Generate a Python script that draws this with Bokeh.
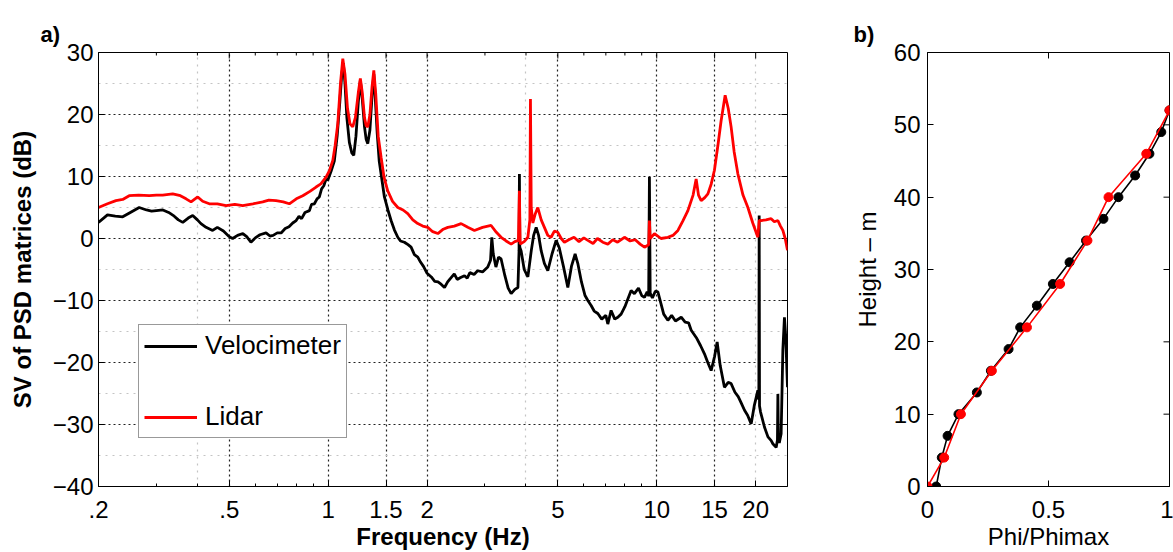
import math
from bokeh.plotting import figure
from bokeh.models import FixedTicker, Legend, LegendItem, Range1d
from bokeh.layouts import row
from bokeh.embed import file_html
from bokeh.resources import INLINE

FONT = "Liberation Sans"

# ---------------- data: panel a) ----------------
vel_freq = [
    0.2, 0.213, 0.225, 0.237, 0.25, 0.266, 0.28, 0.29, 0.30, 0.314,
    0.327, 0.34, 0.35, 0.361, 0.375, 0.387, 0.40, 0.41, 0.425, 0.445,
    0.46, 0.48, 0.50, 0.512, 0.53, 0.55, 0.565, 0.582, 0.60, 0.62,
    0.647, 0.665, 0.68, 0.70, 0.719, 0.74, 0.76, 0.78, 0.799, 0.815,
    0.83, 0.85, 0.877, 0.89, 0.908, 0.925, 0.94, 0.955, 0.97, 0.985,
    0.997, 1.02, 1.044, 1.065, 1.085, 1.1, 1.112, 1.125, 1.14, 1.16,
    1.18, 1.1965, 1.215, 1.235, 1.253, 1.27, 1.29, 1.305, 1.32, 1.34,
    1.36, 1.377, 1.39, 1.41, 1.43, 1.449, 1.483, 1.52, 1.554, 1.59,
    1.629, 1.66, 1.706, 1.75, 1.788, 1.83, 1.874, 1.91, 1.95, 2.0,
    2.06, 2.11, 2.16, 2.21, 2.26, 2.31, 2.35, 2.42, 2.47, 2.53,
    2.6, 2.65, 2.7, 2.78, 2.85, 2.95, 3.06, 3.12, 3.148, 3.18,
    3.24, 3.3, 3.36, 3.45, 3.53, 3.605, 3.7, 3.78, 3.81, 3.82,
    3.83, 3.866, 3.95, 4.053, 4.15, 4.22, 4.296, 4.37, 4.45, 4.55,
    4.661, 4.8, 4.94, 5.05, 5.2, 5.363, 5.5, 5.644, 5.75, 5.9,
    6.05, 6.17, 6.314, 6.45, 6.617, 6.8, 7.0, 7.097, 7.263, 7.45,
    7.612, 7.79, 8.0, 8.2, 8.357, 8.55, 8.8, 9.0, 9.176, 9.35,
    9.45, 9.5, 9.55, 9.7, 9.9, 10.08, 10.3, 10.5, 10.81, 11.1,
    11.4, 11.87, 12.2, 12.5, 12.73, 13.2, 13.6, 13.97, 14.3, 14.64,
    15.0, 15.27, 15.6, 16.07, 16.5, 16.84, 17.3, 17.7, 18.07, 18.5,
    18.9, 19.38, 19.8, 20.31, 20.45, 20.5, 20.55, 20.7, 21.27, 21.8,
    22.3, 22.56, 23.09, 23.3, 23.37, 23.45, 23.6, 23.91, 24.2, 24.47,
    24.7, 25.0,
]
vel_db = [
    2.6, 3.8, 3.6, 3.5, 4.2, 5.0, 4.6, 4.4, 4.5, 4.6,
    4.2, 3.6, 3.0, 2.6, 3.3, 3.7, 3.0, 2.4, 1.8, 1.3,
    1.8, 1.2, 0.3, 0.0, 0.5, 0.8, 0.3, -0.6, 0.1, 0.6,
    0.9, 0.4, 0.5, 0.9, 0.9, 1.6, 1.9, 2.5, 2.9, 3.6,
    3.2, 4.2, 4.5, 5.5, 5.6, 6.4, 6.7, 8.0, 8.5, 9.6,
    9.4, 10.8, 12.5, 16.5, 22.0, 26.5, 28.3, 25.0, 19.5, 15.5,
    13.8, 13.4, 16.5, 22.0, 25.5, 22.5, 18.0, 16.0, 15.3, 17.5,
    23.0, 26.5, 23.0, 17.0, 12.5, 10.4, 6.7, 4.6, 2.9, 1.4,
    0.2, -0.4, -0.6, -1.0, -1.4, -2.6, -3.0, -3.8, -4.5, -5.6,
    -6.2, -6.9, -7.0, -7.4, -7.9, -7.0, -6.5, -5.7, -6.6, -6.3,
    -6.0, -6.4, -5.5, -5.8, -5.2, -5.4, -4.6, -3.5, 0.2, -2.5,
    -4.6, -3.0, -3.3, -6.0, -8.0, -8.9, -8.2, -7.9, -2.0, 10.4,
    -1.4, -2.0, -5.0, -6.2, -2.0, 0.5, 1.8, 0.5, -2.0, -4.0,
    -5.2, -2.5, -0.3, -1.5, -4.5, -7.9, -4.5, -2.5, -4.0, -7.0,
    -9.2, -10.0, -10.8, -11.7, -12.1, -13.0, -12.4, -13.8, -11.6, -13.0,
    -12.7, -12.2, -11.0, -9.5, -8.4, -8.9, -8.0, -9.2, -9.5, -8.6,
    -9.3, 9.9, -8.8, -9.6, -8.5, -8.6, -10.5, -12.2, -13.2, -12.4,
    -13.3, -12.7, -13.5, -13.6, -14.8, -16.0, -17.3, -18.6, -20.0, -21.3,
    -19.0, -16.7, -20.5, -24.0, -23.2, -23.4, -24.8, -25.5, -26.5, -27.7,
    -28.5, -29.9, -27.0, -24.5, -26.0, 3.7, -27.0, -28.0, -30.4, -32.0,
    -32.6, -33.1, -33.7, -32.5, -25.1, -32.0, -33.0, -31.5, -18.0, -12.7,
    -16.0, -24.0,
]

lid_freq = [
    0.2, 0.213, 0.226, 0.237, 0.248, 0.265, 0.2855, 0.30, 0.3136, 0.3364,
    0.355, 0.3694, 0.3826, 0.4009, 0.415, 0.4348, 0.46, 0.489, 0.52, 0.5495,
    0.59, 0.6323, 0.66, 0.694, 0.73, 0.7617, 0.80, 0.837, 0.88, 0.9188,
    0.95, 0.9854, 1.01, 1.033, 1.05, 1.0696, 1.09, 1.108, 1.125, 1.145,
    1.165, 1.188, 1.21, 1.235, 1.253, 1.27, 1.29, 1.305, 1.32, 1.34,
    1.36, 1.377, 1.395, 1.42, 1.449, 1.48, 1.518, 1.57, 1.629, 1.69,
    1.747, 1.81, 1.874, 1.94, 2.01, 2.08, 2.157, 2.24, 2.313, 2.42,
    2.539, 2.66, 2.787, 2.95, 3.133, 3.25, 3.36, 3.48, 3.605, 3.7,
    3.793, 3.82, 3.84, 3.95, 4.053, 4.11, 4.127, 4.15, 4.197, 4.27,
    4.345, 4.45, 4.551, 4.66, 4.77, 4.88, 5.0, 5.12, 5.236, 5.4,
    5.6, 5.8, 6.0, 6.17, 6.4, 6.6, 6.85, 7.097, 7.35, 7.6,
    7.973, 8.3, 8.6, 8.9, 9.176, 9.45, 9.5, 9.55, 9.84, 10.3,
    10.81, 11.2, 11.6, 12.0, 12.44, 12.9, 13.18, 13.4, 13.65, 14.0,
    14.31, 14.65, 14.98, 15.35, 15.70, 16.15, 16.5, 16.84, 17.2, 17.66,
    18.3, 18.94, 19.6, 20.31, 20.5, 20.79, 21.5, 22.29, 22.8, 23.37,
    23.8, 24.2, 24.6, 25.0,
]
lid_db = [
    5.0, 5.6, 6.1, 6.3, 6.9, 7.0, 6.9, 7.0, 7.0, 7.2,
    6.9, 6.4, 5.9, 6.7, 6.0, 5.6, 5.6, 5.3, 5.5, 5.3,
    5.6, 5.9, 6.2, 6.1, 5.9, 5.6, 6.4, 6.9, 7.6, 8.3,
    8.8, 9.9, 11.0, 12.6, 15.0, 18.5, 25.0, 29.0, 26.5, 21.0,
    18.5, 18.0, 19.5, 23.5, 25.8, 23.5, 19.5, 18.2, 18.0, 20.0,
    24.5, 27.1, 23.5, 16.5, 13.1, 9.8, 7.7, 6.0, 5.0, 4.6,
    4.0, 3.0, 2.4, 2.0, 1.8, 1.1, 0.8, 1.5, 1.8, 2.0,
    2.4, 1.8, 1.3, 1.8, 2.1, 1.0, 0.2, -0.4, -0.9, -0.5,
    -0.3, 7.7, -0.9, -0.5, 0.2, 3.0, 22.5, 5.0, 2.5, 4.0,
    5.0, 3.0, 1.8, 0.5, 0.2, 1.2, 1.0, 0.0, -0.6, -0.2,
    0.2, -0.5, 0.1, -0.3, -0.8, 0.0, -0.6, -0.9, -0.2, -0.6,
    0.2, -0.4, -0.2, -0.9, -1.4, -1.0, 2.9, 0.0, 0.8, 0.0,
    0.2, 0.5, 1.3, 2.8, 4.5, 7.0, 9.6, 7.0, 6.1, 6.6,
    7.2, 8.8, 11.0, 15.0, 19.0, 23.1, 21.0, 18.0, 14.0, 10.4,
    7.0, 5.0, 2.5, 0.2, 2.9, 2.9, 3.0, 3.2, 2.7, 2.9,
    2.0, 1.3, 0.0, -1.9,
]

freq_ticks = [0.2, 0.5, 1, 1.5, 2, 5, 10, 15, 20]
freq_tick_labels = [".2", ".5", "1", "1.5", "2", "5", "10", "15", "20"]
freq_minor = [0.3, 0.4, 0.6, 0.7, 0.8, 0.9, 3, 4, 6, 7, 8, 9]
db_ticks = [-40, -30, -20, -10, 0, 10, 20, 30]

# ---------------- data: panel b) ----------------
vel_height = [0, 4, 7, 10, 13, 16, 19, 22, 25, 28, 31, 34, 37, 40, 43, 46, 49, 52]
vel_phi = [0.036, 0.059, 0.083, 0.128, 0.204, 0.262, 0.335, 0.383, 0.452,
           0.518, 0.587, 0.655, 0.727, 0.789, 0.858, 0.917, 0.966, 1.0]
lid_height = [0, 4, 10, 16, 22, 28, 34, 40, 46, 52]
lid_phi = [0.0, 0.069, 0.138, 0.266, 0.411, 0.548, 0.661, 0.748, 0.904, 1.0]

phi_ticks = [0, 0.5, 1]
phi_tick_labels = ["0", "0.5", "1"]
height_ticks = [0, 10, 20, 30, 40, 50, 60]

# ---------------- layout constants ----------------
H = 552
TOP, BOTTOM = 52, 65
FRAME_H = H - TOP - BOTTOM
W1, L1, FW1 = 830, 98, 689
W2, L2, FW2 = 1173 - 830, 97, 242
TICK_MAJ, TICK_MIN = 6, 3


def minus(v):
    return ("%g" % v).replace("-", "\u2212")


def style_axis(ax):
    ax.major_label_text_font = FONT
    ax.major_label_text_font_size = "24px"
    ax.major_label_text_color = "black"
    ax.axis_line_color = "black"
    ax.major_tick_line_color = "black"
    ax.minor_tick_line_color = "black"
    ax.major_tick_in = TICK_MAJ
    ax.major_tick_out = 0
    ax.minor_tick_in = TICK_MIN
    ax.minor_tick_out = 0
    ax.axis_label_text_font = FONT
    ax.axis_label_text_font_size = "24px"
    ax.axis_label_text_color = "black"


def style_title(t, text, offset):
    t.text = text
    t.align = "left"
    t.vertical_align = "middle"
    t.offset = offset
    t.standoff = 10
    t.text_font = FONT
    t.text_font_size = "22px"
    t.text_font_style = "bold"
    t.text_color = "black"


# ================= panel a =================
p = figure(width=W1, height=H, x_axis_type="log",
           x_range=Range1d(0.2, 25), y_range=Range1d(-40, 30),
           output_backend="svg", toolbar_location=None,
           min_border_left=L1, min_border_right=W1 - L1 - FW1,
           min_border_top=TOP, min_border_bottom=BOTTOM)
p.background_fill_color = "white"
p.border_fill_color = "white"
p.outline_line_color = "black"

p.xaxis.ticker = FixedTicker(ticks=freq_ticks, minor_ticks=freq_minor)
p.xaxis.major_label_overrides = {t: l for t, l in zip(freq_ticks, freq_tick_labels)}
p.yaxis.ticker = FixedTicker(ticks=db_ticks, minor_ticks=[])
p.yaxis.major_label_overrides = {t: minus(t) for t in db_ticks}
style_axis(p.xaxis[0])
style_axis(p.yaxis[0])
p.xaxis.major_label_standoff = 14
p.yaxis.major_label_standoff = 5
p.xaxis.axis_label = "Frequency (Hz)"
p.xaxis.axis_label_text_font_style = "bold"
p.xaxis.axis_label_standoff = 2
p.yaxis.axis_label = "SV of PSD matrices (dB)"
p.yaxis.axis_label_text_font_style = "bold"
p.yaxis.axis_label_standoff = 14

style_title(p.title, "a)", 40 - L1)

p.xgrid.ticker = FixedTicker(ticks=[0.5, 1, 1.5, 2, 5, 10, 15], minor_ticks=[0.4, 4, 20])
p.ygrid.ticker = FixedTicker(ticks=[-30, -20, -10, 0, 10, 20],
                             minor_ticks=[-35, -25, -15, -5, 5, 15, 25])
for g in (p.xgrid[0], p.ygrid[0]):
    g.grid_line_color = "#222222"
    g.grid_line_dash = "2 3"
    g.grid_line_width = 1.2
    g.minor_grid_line_color = "#c4c4c4"
    g.minor_grid_line_dash = "2 5"
    g.minor_grid_line_width = 1.2

# inward ticks on the top and right edges (box)
dec_per_px = math.log10(25 / 0.2) / FW1
db_per_px = 70 / FRAME_H
top_x = freq_ticks + freq_minor
top_len = [TICK_MAJ] * len(freq_ticks) + [TICK_MIN] * len(freq_minor)
p.segment(x0=top_x, y0=[30] * len(top_x), x1=top_x,
          y1=[30 - l * db_per_px for l in top_len], line_color="black", line_width=1)
p.segment(x0=[25] * len(db_ticks), y0=db_ticks,
          x1=[25 * 10 ** (-TICK_MAJ * dec_per_px)] * len(db_ticks), y1=db_ticks,
          line_color="black", line_width=1)

r_vel = p.line(vel_freq, vel_db, line_color="black", line_width=2.8)
r_lid = p.line(lid_freq, lid_db, line_color="#ff0000", line_width=2.8)

legend = Legend(items=[LegendItem(label="Velocimeter", renderers=[r_vel]),
                       LegendItem(label="Lidar", renderers=[r_lid])],
                location=(40, 48), orientation="vertical",
                label_text_font=FONT, label_text_font_size="26px",
                label_text_color="black",
                glyph_width=53, glyph_height=30, label_height=30,
                label_standoff=8, padding=5, spacing=40, margin=0,
                border_line_color="#333333", border_line_width=1.5,
                background_fill_color="white", background_fill_alpha=1)
p.add_layout(legend)

# ================= panel b =================
q = figure(width=W2, height=H,
           x_range=Range1d(0, 1), y_range=Range1d(0, 60),
           output_backend="svg", toolbar_location=None,
           min_border_left=L2, min_border_right=W2 - L2 - FW2,
           min_border_top=TOP, min_border_bottom=BOTTOM)
q.background_fill_color = "white"
q.border_fill_color = "white"
q.outline_line_color = "black"
q.xgrid.visible = False
q.ygrid.visible = False

q.xaxis.ticker = FixedTicker(ticks=phi_ticks, minor_ticks=[])
q.xaxis.major_label_overrides = {t: l for t, l in zip(phi_ticks, phi_tick_labels)}
q.yaxis.ticker = FixedTicker(ticks=height_ticks, minor_ticks=[])
style_axis(q.xaxis[0])
style_axis(q.yaxis[0])
q.xaxis.major_label_standoff = 14
q.yaxis.major_label_standoff = 7
q.xaxis.axis_label = "Phi/Phimax"
q.xaxis.axis_label_standoff = 2
q.yaxis.axis_label = "Height \u2013 m"
q.yaxis.axis_label_standoff = 10
q.xaxis.axis_label_text_font_style = "normal"
q.yaxis.axis_label_text_font_style = "normal"

style_title(q.title, "b)", 853 - (W1 + L2))

m_per_px = 60 / FRAME_H
u_per_px = 1 / FW2
q.segment(x0=phi_ticks, y0=[60] * len(phi_ticks), x1=phi_ticks,
          y1=[60 - TICK_MAJ * m_per_px] * len(phi_ticks), line_color="black", line_width=1)
q.segment(x0=[1] * len(height_ticks), y0=height_ticks,
          x1=[1 - TICK_MAJ * u_per_px] * len(height_ticks), y1=height_ticks,
          line_color="black", line_width=1)

q.line(vel_phi, vel_height, line_color="black", line_width=1.6)
q.scatter(vel_phi, vel_height, size=9, fill_color="black", line_color="black")
q.line(lid_phi, lid_height, line_color="#ff0000", line_width=1.6)
q.scatter(lid_phi, lid_height, size=9, fill_color="#ff0000", line_color="#ff0000")

layout = row(p, q, spacing=0)
open("out.html", "w").write(file_html(layout, INLINE))
